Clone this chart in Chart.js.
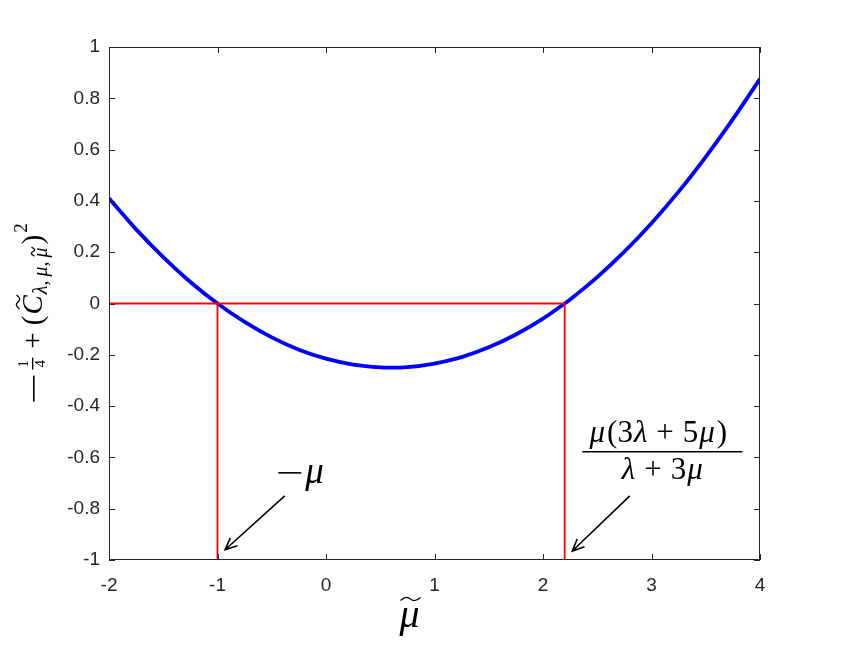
<!DOCTYPE html>
<html>
<head>
<meta charset="utf-8">
<script src="https://cdn.jsdelivr.net/npm/chart.js@4.4.1/dist/chart.umd.min.js"></script>
<style>
  html, body { margin: 0; padding: 0; background: #fff; }
  #wrap { width: 841px; height: 650px; }
</style>
</head>
<body>
<div id="wrap"><canvas id="chart" width="841" height="650"></canvas></div>
<script>
// curve values
const muTilde = [-2, -1.75, -1.5, -1.25, -1, -0.75, -0.5, -0.25, 0, 0.25, 0.5, 0.6, 0.75, 1, 1.25, 1.5, 1.75, 2, 2.2, 2.25, 2.5, 2.75, 3, 3.25, 3.5, 3.75, 4];
const curveVals = [0.41, 0.289, 0.181, 0.084, 0, -0.072, -0.132, -0.18, -0.215, -0.238, -0.249, -0.25, -0.248, -0.234, -0.209, -0.171, -0.121, -0.059, 0, 0.016, 0.103, 0.202, 0.313, 0.436, 0.572, 0.719, 0.876];

// red guide lines
const rootLeft = -1;
const rootRight = 2.2;
const xMin = -2, xMax = 4;
const yMin = -1, yMax = 1;

const xTicks = [-2, -1, 0, 1, 2, 3, 4];
const yTicks = [-1, -0.8, -0.6, -0.4, -0.2, 0, 0.2, 0.4, 0.6, 0.8, 1];

// annotation arrows, in data units [tail, tip]
const arrowLeft = [[-0.38, -0.75], [-0.93, -0.96]];
const arrowRight = [[2.8, -0.75], [2.27, -0.965]];

const axisColor = "#262626";
const serif = "'Liberation Serif', 'DejaVu Serif', serif";
const sans = "'Liberation Sans', Arial, sans-serif";

const curve = muTilde.map((x, i) => ({ x: x, y: curveVals[i] }));

function drawArrow(ctx, x1, y1, x2, y2) {
    const ang = Math.atan2(y2 - y1, x2 - x1);
    const len = 13, spread = 0.42;
    ctx.beginPath();
    ctx.moveTo(x1, y1);
    ctx.lineTo(x2, y2);
    ctx.moveTo(x2 - len * Math.cos(ang - spread), y2 - len * Math.sin(ang - spread));
    ctx.lineTo(x2, y2);
    ctx.lineTo(x2 - len * Math.cos(ang + spread), y2 - len * Math.sin(ang + spread));
    ctx.stroke();
}

function tilde(ctx, cx, cy, w) {
    ctx.save();
    ctx.lineWidth = 1.3;
    ctx.beginPath();
    ctx.moveTo(cx - w / 2, cy + 1.5);
    ctx.bezierCurveTo(cx - w / 4, cy - 3, cx - w / 8, cy - 2, cx, cy);
    ctx.bezierCurveTo(cx + w / 8, cy + 2, cx + w / 4, cy + 3, cx + w / 2, cy - 1.5);
    ctx.stroke();
    ctx.restore();
}

// mixed upright / italic text, centred on cx
function runs(ctx, list, size, cx, base) {
    let total = 0;
    list.forEach(r => {
        ctx.font = (r.it ? "italic " : "") + size + "px " + serif;
        r.w = ctx.measureText(r.t).width;
        total += r.w + (r.gap || 0);
    });
    let x = cx - total / 2;
    ctx.textAlign = "left";
    list.forEach(r => {
        ctx.font = (r.it ? "italic " : "") + size + "px " + serif;
        ctx.fillText(r.t, x, base);
        x += r.w + (r.gap || 0);
    });
}

const frameAndText = {
    id: "frameAndText",
    afterDraw(chart) {
        const { ctx, chartArea: a, scales: { x, y } } = chart;
        ctx.save();
        // box + inward ticks
        ctx.strokeStyle = axisColor;
        ctx.lineWidth = 1;
        ctx.strokeRect(a.left + 0.5, a.top + 0.5, a.right - a.left - 1, a.bottom - a.top - 1);
        ctx.beginPath();
        xTicks.forEach(v => {
            const px = Math.round(x.getPixelForValue(v)) + 0.5;
            ctx.moveTo(px, a.bottom); ctx.lineTo(px, a.bottom - 6);
            ctx.moveTo(px, a.top); ctx.lineTo(px, a.top + 6);
        });
        yTicks.forEach(v => {
            const py = Math.round(y.getPixelForValue(v)) + 0.5;
            ctx.moveTo(a.left, py); ctx.lineTo(a.left + 6, py);
            ctx.moveTo(a.right, py); ctx.lineTo(a.right - 6, py);
        });
        ctx.stroke();

        // arrows
        ctx.strokeStyle = "#000";
        ctx.lineWidth = 1.6;
        [arrowLeft, arrowRight].forEach(ar => {
            drawArrow(ctx, x.getPixelForValue(ar[0][0]), y.getPixelForValue(ar[0][1]),
                x.getPixelForValue(ar[1][0]), y.getPixelForValue(ar[1][1]));
        });

        ctx.fillStyle = "#000";
        ctx.textBaseline = "alphabetic";

        // -mu label
        const mx = x.getPixelForValue(-0.44), my = y.getPixelForValue(-0.7);
        ctx.fillRect(mx, my - 11, 23, 1.6);
        ctx.textAlign = "left";
        ctx.font = "italic 37px " + serif;
        ctx.fillText("\u03bc", mx + 27, my);

        // fraction label
        const fx = x.getPixelForValue(3.1), fy = y.getPixelForValue(-0.575);
        runs(ctx, [
            { t: "\u03bc", it: true, gap: 2 }, { t: "(3", gap: 1 }, { t: "\u03bb", it: true, gap: 9 },
            { t: "+", gap: 9 }, { t: "5", gap: 1 }, { t: "\u03bc", it: true, gap: 2 }, { t: ")" }
        ], 31, fx - 4, fy - 9);
        runs(ctx, [
            { t: "\u03bb", it: true, gap: 9 }, { t: "+", gap: 9 }, { t: "3", gap: 1 }, { t: "\u03bc", it: true }
        ], 31, fx, fy + 28);
        ctx.fillRect(fx - 80, fy, 160, 1.5);

        // x axis title
        const xc = (a.left + a.right) / 2 - 25, xb = a.bottom + 67;
        ctx.textAlign = "center";
        ctx.font = "italic 40px " + serif;
        ctx.fillText("\u03bc", xc, xb);
        tilde(ctx, xc + 1, xb - 28, 20);

        // y axis title, rotated
        ctx.save();
        ctx.translate(42, (a.top + a.bottom) / 2 + 9);
        ctx.rotate(-Math.PI / 2);
        ctx.textAlign = "left";
        const big = "29px " + serif, bigI = "italic 29px " + serif;
        const small = "19px " + serif, smallI = "italic 20px " + serif;
        const parts = [
            { minus: true, gap: 6 },
            { frac: true, gap: 9 },
            { t: "+", f: big, dy: 0, gap: 7 },
            { t: "(", f: big, dy: 0, gap: 1 },
            { t: "C", f: bigI, dy: 0, gap: 1, tl: true },
            { t: "\u03bb,", f: smallI, dy: 5, gap: 4 },
            { t: "\u03bc,", f: smallI, dy: 5, gap: 4 },
            { t: "\u03bc", f: smallI, dy: 5, gap: 3, tl: true },
            { t: ")", f: big, dy: 0, gap: 2 },
            { t: "2", f: small, dy: -15, gap: 0 }
        ];
        let total = 0;
        parts.forEach(p => {
            if (p.frac) { p.w = 12; }
            else if (p.minus) { p.w = 26; }
            else { ctx.font = p.f; p.w = ctx.measureText(p.t).width; }
            total += p.w + p.gap;
        });
        let cx = -total / 2;
        parts.forEach(p => {
            if (p.minus) {
                ctx.fillRect(cx, -9, p.w, 1.6);
            } else if (p.frac) {
                ctx.font = "15px " + serif;
                ctx.textAlign = "center";
                ctx.fillText("1", cx + 6, -14);
                ctx.fillText("4", cx + 6, 3);
                ctx.fillRect(cx, -10, 12, 1.3);
                ctx.textAlign = "left";
            } else {
                ctx.font = p.f;
                ctx.fillText(p.t, cx, p.dy);
                if (p.tl) {
                    const isBig = p.f === bigI;
                    tilde(ctx, cx + p.w / 2 + (isBig ? 3 : 1), isBig ? -24 : -9, isBig ? 14 : 9);
                }
            }
            cx += p.w + p.gap;
        });
        ctx.restore();

        ctx.restore();
    }
};

new Chart(document.getElementById("chart"), {
    type: "scatter",
    data: {
        datasets: [
            {
                data: curve,
                showLine: true,
                borderColor: "#0000ff",
                borderWidth: 3.8,
                pointRadius: 0,
                cubicInterpolationMode: "monotone",
                order: 2
            },
            {
                data: [{ x: xMin, y: 0 }, { x: rootRight, y: 0 }],
                showLine: true, borderColor: "#ff0000", borderWidth: 1.8, pointRadius: 0, order: 1
            },
            {
                data: [{ x: rootLeft, y: yMin }, { x: rootLeft, y: 0 }],
                showLine: true, borderColor: "#ff0000", borderWidth: 1.8, pointRadius: 0, order: 1
            },
            {
                data: [{ x: rootRight, y: yMin }, { x: rootRight, y: 0 }],
                showLine: true, borderColor: "#ff0000", borderWidth: 1.8, pointRadius: 0, order: 1
            }
        ]
    },
    options: {
        responsive: false,
        animation: false,
        layout: { padding: { left: 0, top: 47, right: 81, bottom: 0 } },
        plugins: { legend: { display: false }, tooltip: { enabled: false } },
        scales: {
            x: {
                type: "linear",
                min: xMin, max: xMax,
                afterFit(s) { s.height = 90; },
                afterBuildTicks(s) { s.ticks = xTicks.map(v => ({ value: v })); },
                grid: { display: false },
                border: { display: false },
                ticks: {
                    color: axisColor,
                    padding: 6,
                    font: { family: sans, size: 19 },
                    maxRotation: 0
                }
            },
            y: {
                type: "linear",
                min: yMin, max: yMax,
                afterFit(s) { s.width = 109; },
                afterBuildTicks(s) { s.ticks = yTicks.map(v => ({ value: v })); },
                grid: { display: false },
                border: { display: false },
                ticks: {
                    color: axisColor,
                    padding: 1,
                    font: { family: sans, size: 19 },
                    callback: v => String(+v.toFixed(1))
                }
            }
        }
    },
    plugins: [frameAndText]
});
</script>
</body>
</html>
